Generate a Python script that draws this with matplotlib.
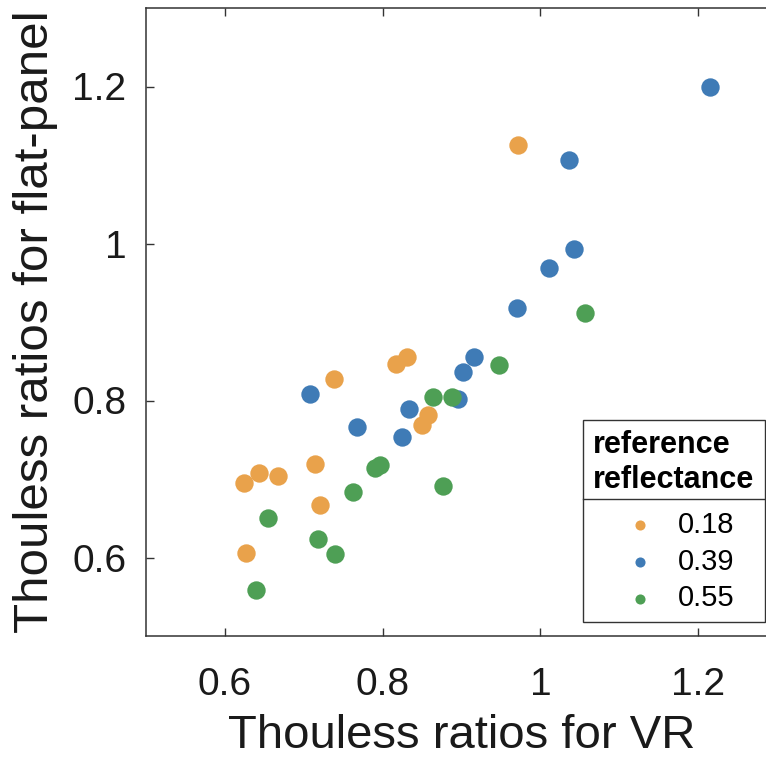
import matplotlib
matplotlib.use("Agg")
import matplotlib.pyplot as plt
from matplotlib.lines import Line2D

plt.rcParams['font.family'] = ['Liberation Sans', 'DejaVu Sans']

# Thouless ratios, one point per participant, grouped by reference reflectance
groups = ['0.18', '0.39', '0.55']
colors = ['#E9A24B', '#3F7BB6', '#4E9F55']

vr_018 = [0.972, 0.817, 0.831, 0.738, 0.857, 0.850, 0.714, 0.624, 0.643, 0.667, 0.721, 0.627]
fp_018 = [1.125, 0.847, 0.856, 0.828, 0.782, 0.769, 0.719, 0.695, 0.708, 0.704, 0.667, 0.606]

vr_039 = [1.215, 1.036, 1.043, 1.011, 0.970, 0.916, 0.902, 0.896, 0.708, 0.834, 0.768, 0.825]
fp_039 = [1.199, 1.107, 0.993, 0.969, 0.918, 0.856, 0.836, 0.802, 0.808, 0.789, 0.766, 0.753]

vr_055 = [1.057, 0.947, 0.864, 0.888, 0.790, 0.797, 0.876, 0.763, 0.655, 0.718, 0.740, 0.639]
fp_055 = [0.911, 0.845, 0.804, 0.805, 0.714, 0.718, 0.691, 0.684, 0.650, 0.624, 0.604, 0.558]

xs = [vr_018, vr_039, vr_055]
ys = [fp_018, fp_039, fp_055]

ticks = [0.6, 0.8, 1.0, 1.2]
tick_labels = ['0.6', '0.8', '1', '1.2']

fig = plt.figure(figsize=(7.66, 7.60), dpi=100)
ax = fig.add_axes([146 / 766, 124 / 760, 631 / 766, 628 / 760])

for x, y, c, g in zip(xs, ys, colors, groups):
    ax.scatter(x, y, s=175, color=c, linewidths=0, label=g, zorder=3)

ax.set_xlim(0.5, 1.3)
ax.set_ylim(0.5, 1.3)
ax.set_xticks(ticks)
ax.set_xticklabels(tick_labels)
ax.set_yticks(ticks)
ax.set_yticklabels(tick_labels)

for sp in ax.spines.values():
    sp.set_color('#333333')
    sp.set_linewidth(1.1)
ax.tick_params(axis='both', direction='in', length=6, width=1.0, color='#333333',
               labelsize=28, labelcolor='#1a1a1a', top=True, right=True)
ax.tick_params(axis='x', pad=22)
ax.tick_params(axis='y', pad=14)

ax.set_xlabel('Thouless ratios for VR', fontsize=34, color='#1a1a1a')
ax.set_ylabel('Thouless ratios for flat-panel', fontsize=35.5, color='#1a1a1a')
ax.xaxis.set_label_coords(0.5, -0.125)
ax.yaxis.set_label_coords(-0.14, 0.5)

leg = ax.legend(title='reference\nreflectance', loc='upper left',
                bbox_to_anchor=(583 / 766, 1 - 420 / 760), bbox_transform=fig.transFigure,
                borderaxespad=0, fontsize=21,
                title_fontproperties={'weight': 'bold', 'size': 22},
                markerscale=0.55, frameon=True, fancybox=False, framealpha=1,
                edgecolor='#333333', handletextpad=0.38, labelspacing=0.3,
                borderpad=0.35, handlelength=1.86)
leg.get_frame().set_linewidth(1.0)
# extra gap between the title and the entries
leg._legend_box.sep = 11.5

# divider line between legend title and entries
fig.canvas.draw()
lb = leg.get_window_extent()
tb = leg.get_title().get_window_extent()
y_div = (tb.y0 - 4) / fig.bbox.height
fig.add_artist(Line2D([lb.x0 / fig.bbox.width, lb.x1 / fig.bbox.width], [y_div, y_div],
                      color='#333333', linewidth=1.0, transform=fig.transFigure))

fig.savefig('out.png', dpi=100)
